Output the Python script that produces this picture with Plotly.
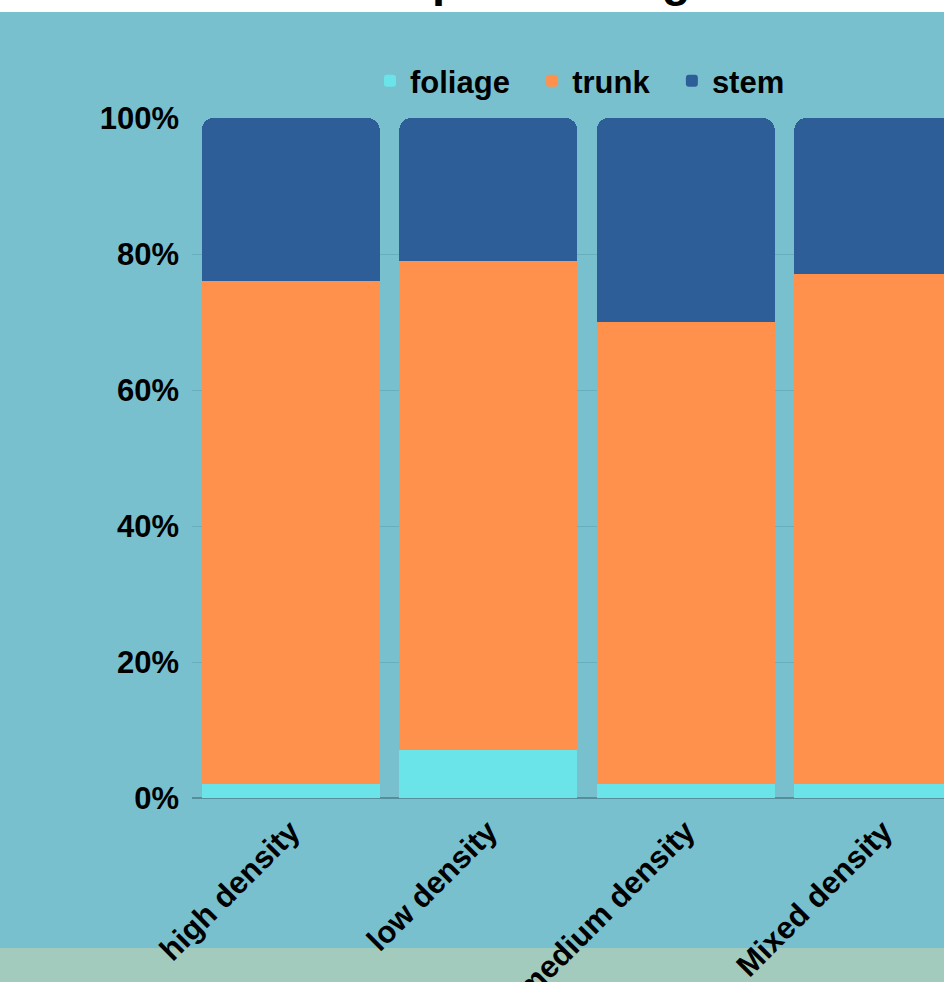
import plotly.graph_objects as go

categories = ["high density", "low density", "medium density", "Mixed density"]
series_names = ["foliage", "trunk", "stem"]
foliage = [2, 7, 2, 2]
trunk = [74, 72, 68, 75]
stem = [24, 21, 30, 23]
tick_vals = [0, 20, 40, 60, 80, 100]
tick_text = ["0%", "20%", "40%", "60%", "80%", "100%"]
title_text = "Biomass partitioning"

BG = "#79C0CE"
FONT = "Liberation Sans, Arial, Helvetica, sans-serif"
FS = 31
NB = "\u00a0\u00a0"

fig = go.Figure()
fig.add_trace(go.Bar(name=series_names[0] + NB, x=categories, y=foliage, marker=dict(color="#6AE4E8", line=dict(width=0))))
fig.add_trace(go.Bar(name=series_names[1] + NB, x=categories, y=trunk, marker=dict(color="#FF914D", line=dict(width=0))))
fig.add_trace(go.Bar(name=series_names[2], x=categories, y=stem, marker=dict(color="#2E5E97", line=dict(width=0))))

W, H = 944, 982
L, T, B = 192, 118, 184
plot_h = H - T - B
plot_w = W - L

fig.update_layout(
    width=W, height=H,
    margin=dict(l=L, r=0, t=T, b=B, pad=0, autoexpand=False),
    paper_bgcolor=BG, plot_bgcolor="rgba(0,0,0,0)",
    barmode="stack", bargap=0.099, barcornerradius=12,
    font=dict(family=FONT, size=FS, color="black", weight="bold"),
    showlegend=True,
    legend=dict(orientation="h", x=(370 - L) / plot_w, xanchor="left",
                y=1 + (T - 81) / plot_h, yanchor="middle",
                font=dict(family=FONT, size=FS, color="black", weight="bold"),
                bgcolor="rgba(0,0,0,0)", traceorder="normal", itemclick=False),
    xaxis=dict(range=[-0.5, -0.5 + plot_w / 197.5], tickangle=-45, showgrid=False,
               showline=False, zeroline=False, ticks="", ticklabelstandoff=8,
               automargin=False,
               tickfont=dict(family=FONT, size=FS, color="black", weight="bold")),
    yaxis=dict(range=[0, 100], tickvals=tick_vals, ticktext=tick_text,
               showgrid=True, gridcolor="#68AEBC", gridwidth=1,
               zeroline=True, zerolinecolor="#548F9B", zerolinewidth=2,
               ticks="", ticklabelstandoff=12, automargin=False,
               tickfont=dict(family=FONT, size=FS, color="black", weight="bold")),
    shapes=[
        dict(type="rect", xref="paper", yref="paper", x0=-0.5, x1=1.5,
             y0=1 + (T - 12) / plot_h, y1=1.5, fillcolor="white",
             line=dict(width=0), layer="below"),
        dict(type="rect", xref="paper", yref="paper", x0=-0.5, x1=1.5,
             y0=-(948 - (H - B)) / plot_h, y1=-0.6, fillcolor="#A3CBBD",
             line=dict(width=0), layer="below"),
    ],
    annotations=[
        dict(text=title_text, xref="paper", yref="paper",
             x=(221 - L) / plot_w, xanchor="left",
             y=1 + (T + 21) / plot_h, yanchor="middle", showarrow=False,
             font=dict(family=FONT, size=47, color="black", weight="bold")),
    ],
)

fig.write_html("out.html")
